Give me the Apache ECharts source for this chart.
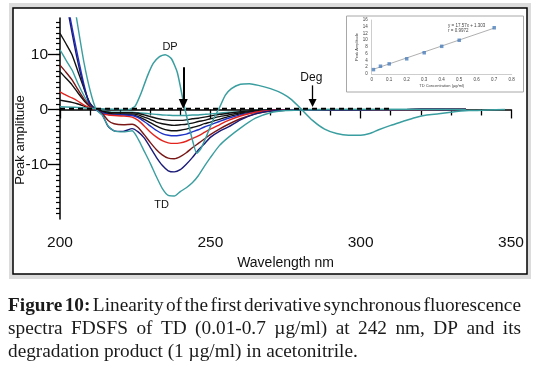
<!DOCTYPE html>
<html><head><meta charset="utf-8">
<script src="https://cdn.jsdelivr.net/npm/echarts@6/dist/echarts.min.js"></script>
<style>html,body{margin:0;padding:0;background:#fff}#c{width:541px;height:370px}</style>
</head><body><div id="c"></div>
<script>
// ---- main spectra data (wavelength nm, peak amplitude) ----
const wavelengths = [200,202,204,206,208,210,212,214,216,218,221,224,226,228,230,232,234,236,238,240,242,244,246,248,250,253,256,260,265,270,275,280,290,300,310,320,335];
const tdTealSmall = [10.9,9.0,7.2,4.7,2.5,0.7,0,-0.2,-0.4,-0.5,-0.5,-0.5,-0.6,-0.7,-0.8,-0.9,-1.0,-1.05,-1.1,-1.1,-1.1,-1.0,-1.0,-0.9,-0.8,-0.7,-0.5,-0.4,-0.2,-0.1,-0.05,0,0,0,0,0,0];
const tdBlack1 = [1.7,1.5,1.3,1.0,0.6,0.2,0,-0.3,-0.5,-0.6,-0.6,-0.6,-0.7,-1.0,-1.3,-1.6,-1.8,-1.95,-2.0,-2.0,-1.9,-1.7,-1.6,-1.4,-1.2,-0.9,-0.7,-0.4,-0.2,-0.1,-0.05,-0.05,-0.05,-0.05,-0.05,0,0];
const tdBlack2 = [6.9,5.7,4.5,3.0,1.6,0.5,0,-0.4,-0.7,-0.8,-0.8,-0.8,-1.0,-1.4,-1.8,-2.3,-2.6,-2.8,-2.9,-2.8,-2.7,-2.5,-2.2,-2.0,-1.7,-1.3,-1.0,-0.6,-0.3,-0.15,-0.1,-0.1,-0.1,-0.1,-0.05,0,0];
const tdBlack3 = [13.9,12.0,10.0,6.9,3.8,1.1,0,-0.5,-0.8,-0.9,-0.9,-1.0,-1.3,-1.8,-2.4,-3.0,-3.5,-3.8,-3.9,-3.8,-3.6,-3.3,-3.0,-2.6,-2.3,-1.8,-1.3,-0.8,-0.4,-0.2,-0.1,-0.1,-0.1,-0.1,-0.05,0,0];
const tdBlue = [30,21,15,9.5,4.5,0.6,-0.1,-0.6,-0.9,-1.0,-1.0,-1.1,-1.5,-2.2,-3.0,-3.8,-4.4,-4.7,-4.8,-4.7,-4.5,-4.1,-3.7,-3.2,-2.8,-2.2,-1.6,-1.0,-0.5,-0.2,-0.1,-0.1,-0.1,-0.1,-0.05,0,0];
const tdRed = [3.2,2.6,2.1,1.5,0.8,0.3,0,-0.8,-1.0,-1.1,-1.2,-1.4,-2.0,-3.0,-4.1,-5.0,-5.7,-6.1,-6.2,-6.1,-5.8,-5.3,-4.8,-4.2,-3.6,-2.8,-2.0,-1.2,-0.5,-0.2,-0.1,-0.1,-0.1,-0.1,-0.1,-0.05,0];
const tdDarkRed = [8.1,6.8,5.4,3.6,1.9,0.6,0,-0.7,-2.0,-2.6,-2.8,-2.7,-3.3,-4.6,-6.0,-7.3,-8.3,-8.9,-9.0,-8.6,-7.9,-7.0,-6.2,-5.4,-4.6,-3.6,-2.7,-1.7,-0.8,-0.3,-0.15,-0.1,-0.1,-0.1,-0.05,0,0];
const tdNavy = [28,20,14,8.5,4,1,0,-0.9,-3.1,-3.9,-4.0,-3.5,-4.1,-5.2,-6.9,-8.7,-10.2,-11.2,-11.4,-11.0,-10.0,-8.8,-7.4,-6.3,-5.1,-4.0,-3.2,-1.9,-0.8,-0.3,-0.15,-0.1,-0.1,-0.1,-0.05,0,0];
const tdTealBig = [45,33,22,15,8.5,3.5,0,-1.0,-3.0,-3.9,-4.1,-3.9,-5.4,-7.6,-9.8,-12.2,-14.4,-15.7,-15.8,-15.0,-14.3,-13.4,-12.1,-10.4,-8.8,-6.6,-5.1,-3.4,-1.6,-0.6,-0.2,-0.1,0,0,0,0,0];

const dpWavelengths = [200,205,210,215,220,223,225,227,229,231,233,235,237,239,241,242,244,245.5,247,249,251,253,255,257,260,263,266,270,274,277,280,284,288,292,296,300,303,306,310,314,318,322,326,330,336,342,348];
const dpValues = [0.5,0.4,0.2,0.1,0,0,0.6,3.0,6.0,8.4,9.6,10.0,9.3,6.8,1.5,-1.0,-5.5,-8.0,-7.0,-4.5,-1.8,0.3,2.6,3.8,4.6,4.7,4.4,3.8,2.9,1.8,0.2,-2.0,-3.6,-4.4,-4.7,-4.7,-4.4,-3.7,-2.9,-2.2,-1.5,-1.0,-0.8,-0.5,-0.2,-0.1,0];

const baselineX = [200, 310];
const baselineY = [0.15, 0.15];

// ---- inset calibration data ----
const insetConc = [0.01,0.05,0.1,0.2,0.3,0.4,0.5,0.7];
const insetAmp = [1.3,2.3,3.0,4.5,6.3,8.2,10.0,13.7];
const trendX = [0.01, 0.7];
const trendY = [1.4, 13.6];

// ---- axis tick labels ----
const xTicks = [200, 250, 300, 350];
const yTickLabels = [-10, 0, 10];

const tdSeries = [
  {arr: tdTealSmall, color: '#3a9ea0'},
  {arr: tdBlack1, color: '#111111'},
  {arr: tdBlack2, color: '#111111'},
  {arr: tdBlack3, color: '#111111'},
  {arr: tdBlue, color: '#1f32c8'},
  {arr: tdRed, color: '#e3241d'},
  {arr: tdDarkRed, color: '#7a1818'},
  {arr: tdNavy, color: '#1b1b78'},
  {arr: tdTealBig, color: '#3a9ea0'}
];

const axisFont = "'Liberation Sans',Arial,sans-serif";
const minorY = [];
for (let v = -19; v <= 16; v++) minorY.push(v);

const series = tdSeries.map(s => ({
  type: 'line', xAxisIndex: 0, yAxisIndex: 0, symbol: 'none', smooth: 0.2, clip: true,
  lineStyle: {color: s.color, width: 1.4}, z: 3,
  data: wavelengths.map((w, i) => [w, s.arr[i]])
}));

series.push({
  type: 'line', xAxisIndex: 0, yAxisIndex: 0, symbol: 'none', smooth: 0.2, clip: true,
  lineStyle: {color: '#3a9ea0', width: 1.5}, z: 4,
  data: dpWavelengths.map((w, i) => [w, dpValues[i]]),
  markLine: {
    silent: true, animation: false, symbol: ['none', 'triangle'], symbolSize: [9, 10],
    label: {show: false},
    lineStyle: {color: '#000', width: 2, type: 'solid'},
    data: [
      [{coord: [241, 7.7]}, {coord: [241, 1.0]}],
      [{coord: [284, 4.4], lineStyle: {width: 1.3}}, {coord: [284, 1.2], symbolSize: [8, 8]}]
    ]
  },
  markPoint: {
    silent: true, animation: false, symbol: 'circle', symbolSize: 0,
    label: {show: true, position: 'inside', color: '#111', fontFamily: axisFont},
    data: [
      {coord: [236.6, 11.4], label: {formatter: 'DP', fontSize: 11}},
      {coord: [233.8, -17.5], label: {formatter: 'TD', fontSize: 11}},
      {coord: [283.6, 5.8], label: {formatter: 'Deg', fontSize: 12}}
    ]
  }
});

series.push({
  type: 'line', xAxisIndex: 0, yAxisIndex: 0, symbol: 'none', z: 5,
  lineStyle: {color: '#000', width: 2, type: [5, 4]},
  data: baselineX.map((x, i) => [x, baselineY[i]])
});

series.push({
  type: 'line', xAxisIndex: 1, yAxisIndex: 2, symbol: 'none', z: 6,
  lineStyle: {color: '#9a9a9a', width: 0.8},
  data: trendX.map((x, i) => [x, trendY[i]])
});
series.push({
  type: 'scatter', xAxisIndex: 1, yAxisIndex: 2, symbol: 'rect', symbolSize: 3.5, z: 7,
  itemStyle: {color: '#4a7ebb'},
  data: insetConc.map((x, i) => [x, insetAmp[i]])
});

// ---- caption (justified) ----
const capFont = "'Liberation Serif','Times New Roman',serif";
const capLeft = 8, capRight = 521;
const mctx = document.createElement('canvas').getContext('2d');
function tw(t, bold, size) { mctx.font = (bold ? 'bold ' : '') + size + 'px ' + capFont; return mctx.measureText(t).width; }
const line3Text = 'degradation product (1 µg/ml) in acetonitrile.';
const w3 = tw(line3Text, false, 17);
const capSize = Math.max(14, Math.min(20, 17 * 350 / w3));
const line1 = [['Figure', true], ['10:', true], ['Linearity', false], ['of', false], ['the', false], ['first', false], ['derivative', false], ['synchronous', false], ['fluorescence', false]];
const line2 = [['spectra', false], ['FDSFS', false], ['of', false], ['TD', false], ['(0.01-0.7', false], ['µg/ml)', false], ['at', false], ['242', false], ['nm,', false], ['DP', false], ['and', false], ['its', false]];
const capEls = [];
function justify(words, y) {
  const widths = words.map(w => tw(w[0], w[1], capSize));
  const total = widths.reduce((a, b) => a + b, 0);
  const gap = (capRight - capLeft - total) / (words.length - 1);
  let x = capLeft;
  words.forEach((w, i) => {
    capEls.push({type: 'text', x: x, y: y, silent: true, z: 10,
      style: {text: w[0], fontSize: capSize, fontFamily: capFont, fontWeight: w[1] ? 'bold' : 'normal', fill: '#1a1a1a', align: 'left', verticalAlign: 'middle'}});
    x += widths[i] + gap;
  });
}
justify(line1, 306);
justify(line2, 329);
capEls.push({type: 'text', x: capLeft, y: 352, silent: true, z: 10,
  style: {text: line3Text, fontSize: capSize, fontFamily: capFont, fill: '#1a1a1a', align: 'left', verticalAlign: 'middle'}});

const chart = echarts.init(document.getElementById('c'), null, {renderer: 'canvas'});
chart.setOption({
  animation: false,
  backgroundColor: '#fff',
  grid: [
    {left: 60, top: 18, width: 451, height: 201},
    {left: 371.7, top: 20, width: 140, height: 54}
  ],
  xAxis: [
    {gridIndex: 0, type: 'value', min: xTicks[0], max: xTicks[xTicks.length - 1], interval: 50,
      axisLine: {lineStyle: {color: '#000', width: 1.5}},
      axisTick: {length: 9, lineStyle: {color: '#000', width: 1.3}},
      minorTick: {show: true, splitNumber: 5, length: 6, lineStyle: {color: '#000', width: 1.3}},
      splitLine: {show: false},
      axisLabel: {fontFamily: axisFont, fontSize: 15.5, color: '#111', margin: 16},
      name: 'Wavelength nm', nameLocation: 'middle', nameGap: 34,
      nameTextStyle: {fontFamily: axisFont, fontSize: 14, color: '#111'}},
    {gridIndex: 1, type: 'value', min: 0, max: 0.8, interval: 0.1,
      axisLine: {lineStyle: {color: '#c0c0c0', width: 0.8}},
      axisTick: {show: false}, splitLine: {show: false},
      axisLabel: {fontSize: 4.5, color: '#444', margin: 3, formatter: v => v === 0 ? '0' : v.toFixed(1)},
      name: 'TD Concentration (µg/ml)', nameLocation: 'middle', nameGap: 10,
      nameTextStyle: {fontSize: 4, color: '#444'}}
  ],
  yAxis: [
    {gridIndex: 0, type: 'value', min: -20, max: 16.7, interval: 10, position: 'left',
      axisLine: {show: true, lineStyle: {color: '#000', width: 1.5}},
      axisTick: {show: true, length: 12, customValues: yTickLabels, lineStyle: {color: '#000', width: 1.3}},
      splitLine: {show: false},
      axisLabel: {fontFamily: axisFont, fontSize: 15.5, color: '#111', margin: 12, customValues: yTickLabels,
        formatter: v => (yTickLabels.indexOf(v) >= 0 ? String(v) : '')}},
    {gridIndex: 0, type: 'value', min: -20, max: 16.7, interval: 1, position: 'left', offset: 0,
      axisLine: {show: false},
      axisTick: {show: true, length: 4, customValues: minorY, lineStyle: {color: '#000', width: 1.2}},
      axisLabel: {show: false}, splitLine: {show: false}},
    {gridIndex: 1, type: 'value', min: 0, max: 16, interval: 2,
      axisLine: {show: true, lineStyle: {color: '#c0c0c0', width: 0.8}},
      axisTick: {show: false}, splitLine: {show: false},
      axisLabel: {fontSize: 4.5, color: '#444', margin: 4},
      name: 'Peak Amplitude', nameLocation: 'middle', nameGap: 12, nameRotate: 90,
      nameTextStyle: {fontSize: 4, color: '#444'}}
  ],
  graphic: [
    {type: 'rect', silent: true, z: -5, shape: {x: 9, y: 3, width: 522, height: 276}, style: {fill: '#dcdcdc'}},
    {type: 'rect', silent: true, z: -4, shape: {x: 13, y: 8, width: 514, height: 266}, style: {fill: '#fff', stroke: '#000', lineWidth: 1.5}},
    {type: 'rect', silent: true, z: -3, shape: {x: 346.5, y: 16, width: 177, height: 76}, style: {fill: '#fff', stroke: '#a8a8a8', lineWidth: 1}},
    {type: 'text', silent: true, z: 10, x: 448, y: 25.7, style: {text: 'y = 17.57x + 1.303', fontSize: 4.5, fill: '#444', align: 'left', verticalAlign: 'middle'}},
    {type: 'text', silent: true, z: 10, x: 448, y: 30.7, style: {text: 'r = 0.9972', fontSize: 4.5, fill: '#444', align: 'left', verticalAlign: 'middle'}},
    {type: 'text', silent: true, z: 10, x: 20, y: 140, rotation: Math.PI / 2,
      style: {text: 'Peak amplitude', fontSize: 13, fontFamily: axisFont, fill: '#111', align: 'center', verticalAlign: 'middle'}}
  ].concat(capEls),
  series: series
});
</script>
</body></html>
